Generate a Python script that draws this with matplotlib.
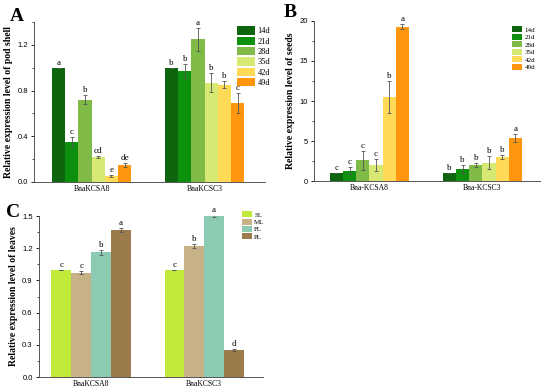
import numpy as np
import matplotlib.pyplot as plt
from matplotlib.ticker import MultipleLocator, AutoMinorLocator

plt.rcParams['font.family'] = ['Liberation Serif', 'DejaVu Serif']

genes_a = ["BnaKCSA8", "BnaKCSC3"]
genes_b = ["Bna-KCSA8", "Bna-KCSC3"]
stages = ["14d", "21d", "28d", "35d", "42d", "49d"]
tissues = ["SL", "ML", "FL", "PL"]

pod_vals = [[1.00, 0.35, 0.72, 0.22, 0.05, 0.15],
            [1.00, 0.97, 1.25, 0.87, 0.85, 0.69]]
pod_err = [[0.0, 0.04, 0.04, 0.01, 0.01, 0.02],
           [0.0, 0.06, 0.10, 0.08, 0.03, 0.09]]
pod_sig = [["a", "c", "b", "cd", "e", "de"],
           ["b", "b", "a", "b", "b", "c"]]

seed_vals = [[1.0, 1.3, 2.6, 2.0, 10.5, 19.3],
             [1.0, 1.5, 2.0, 2.3, 3.0, 5.4]]
seed_err = [[0.0, 0.4, 1.2, 0.7, 2.0, 0.3],
            [0.0, 0.45, 0.3, 0.8, 0.25, 0.5]]
seed_sig = [["c", "c", "c", "c", "b", "a"],
            ["b", "b", "b", "b", "b", "a"]]

leaf_vals = [[1.00, 0.97, 1.16, 1.37],
             [1.00, 1.22, 1.50, 0.25]]
leaf_err = [[0.0, 0.015, 0.02, 0.02],
            [0.0, 0.015, 0.005, 0.01]]
leaf_sig = [["c", "c", "b", "a"],
            ["c", "b", "a", "d"]]

stage_colors = ["#005E00", "#008A00", "#78B83C", "#D5E86A", "#FFD84E", "#FF9100"]
tissue_colors = ["#BDE82F", "#C4AE82", "#86C9AE", "#967441"]


def draw(ax, vals, errs, sigs, labels, names, colors, bw, ylim, step, xlim, ylabel, leg_kw):
    x = np.arange(len(names))
    n = len(labels)
    for j in range(n):
        xs = x + (j - (n - 1) / 2) * bw
        v = [vals[i][j] for i in range(len(names))]
        e = [errs[i][j] for i in range(len(names))]
        ax.bar(xs, v, bw, color=colors[j], label=labels[j], alpha=0.95,
               yerr=e, error_kw=dict(ecolor="#555555", elinewidth=0.6, capsize=1.5, capthick=0.6))
        for i in range(len(names)):
            ax.text(xs[i], v[i] + e[i] + ylim * 0.006, sigs[i][j], ha="center", va="bottom", fontsize=6.5)
    ax.set_xlim(*xlim)
    ax.set_ylim(0, ylim)
    ax.set_xticks(x)
    ax.set_xticklabels(names, fontsize=5.5)
    ax.tick_params(axis="x", length=0, pad=2)
    ax.yaxis.set_major_locator(MultipleLocator(step))
    ax.yaxis.set_minor_locator(AutoMinorLocator(2))
    ax.tick_params(axis="y", labelsize=5.5, length=2.5, width=0.6, pad=2)
    ax.tick_params(axis="y", which="minor", length=1.5, width=0.5)
    for lab in ax.get_yticklabels():
        lab.set_family("Liberation Sans")
    ax.set_ylabel(ylabel, fontsize=7, fontweight="bold", labelpad=3)
    for s in ["top", "right"]:
        ax.spines[s].set_visible(False)
    for s in ["left", "bottom"]:
        ax.spines[s].set_color("#555555")
        ax.spines[s].set_linewidth(0.7)
    ax.legend(frameon=False, prop={"size": leg_kw.pop("fs")}, handletextpad=0.3,
              labelspacing=0.15, borderpad=0, **leg_kw)


fig = plt.figure(figsize=(5.5, 3.91), dpi=100)
W, H = 550, 391


def axes_px(l, t, r, b):
    return fig.add_axes([l / W, 1 - b / H, (r - l) / W, (b - t) / H])


ax_a = axes_px(34, 22, 265, 182)
draw(ax_a, pod_vals, pod_err, pod_sig, stages, genes_a, stage_colors, 0.117, 1.4, 0.4,
     (-0.51, 1.535), "Relative expression level of pod shell",
     dict(fs=6, loc="upper left", bbox_to_anchor=(0.86, 1.0), handlelength=2.2, handleheight=1.2))

ax_b = axes_px(314, 21, 540, 181)
draw(ax_b, seed_vals, seed_err, seed_sig, stages, genes_b, stage_colors, 0.117, 20, 5,
     (-0.49, 1.51), "Relative expression level of seeds",
     dict(fs=5, loc="upper left", bbox_to_anchor=(0.86, 0.99), handlelength=1.5, handleheight=1.0))

ax_c = axes_px(39, 216, 263, 377)
draw(ax_c, leaf_vals, leaf_err, leaf_sig, tissues, genes_a, tissue_colors, 0.175, 1.5, 0.3,
     (-0.46, 1.52), "Relative expression level of leaves",
     dict(fs=5, loc="upper left", bbox_to_anchor=(0.89, 1.05), handlelength=1.5, handleheight=0.9))

fig.text(10 / W, 1 - 8 / H, "A", fontsize=14, fontweight="bold", va="top")
fig.text(284 / W, 1 - 4 / H, "B", fontsize=14, fontweight="bold", va="top")
fig.text(6 / W, 1 - 204 / H, "C", fontsize=14, fontweight="bold", va="top")

fig.savefig("out.png", dpi=100)
